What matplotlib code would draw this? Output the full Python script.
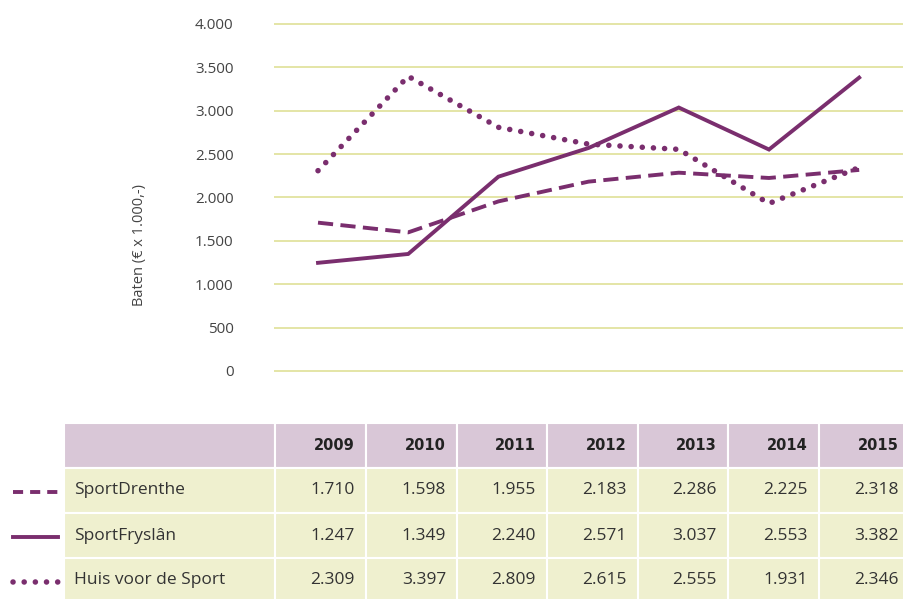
import matplotlib
matplotlib.use("Agg")
import matplotlib.pyplot as plt
from matplotlib.patches import Rectangle
from matplotlib.lines import Line2D

plt.rcParams['font.family'] = ['Open Sans', 'DejaVu Sans']

# data
years = [2009, 2010, 2011, 2012, 2013, 2014, 2015]
sport_drenthe = [1710, 1598, 1955, 2183, 2286, 2225, 2318]
sport_fryslan = [1247, 1349, 2240, 2571, 3037, 2553, 3382]
huis_voor_de_sport = [2309, 3397, 2809, 2615, 2555, 1931, 2346]
series_names = ["SportDrenthe", "SportFryslân", "Huis voor de Sport"]
yticks = [0, 500, 1000, 1500, 2000, 2500, 3000, 3500, 4000]

PURPLE = "#7a2e6e"
GRID = "#e4e5a6"
HEAD = "#d9c7d7"
BODY = "#eff0cf"
TXT = "#333333"

W, H = 904, 599
fig = plt.figure(figsize=(W / 100, H / 100), dpi=100)


def nl(v):
    return f"{v:,}".replace(",", ".")


# chart axes, pixel placement
x0, x1 = 274, 904
y_top, y_zero = 24, 371
pad = 100
ppu = (y_zero - y_top) / 4000
ax = fig.add_axes([x0 / W, 1 - (y_zero + pad * ppu) / H,
                   (x1 - x0) / W, (y_zero - y_top + 2 * pad * ppu) / H])
xs = list(range(len(years)))
ax.set_xlim(-0.488, 6.497)
ax.set_ylim(-pad, 4000 + pad)

styles = [
    dict(lw=2.8, ls=(0, (3.9, 1.9)), dash_capstyle="butt"),
    dict(lw=2.8, ls="-"),
    dict(lw=4.0, ls=(0, (0.01, 2.0)), dash_capstyle="round"),
]
legend_styles = [
    dict(lw=2.8, ls=(0, (2.6, 1.8)), dash_capstyle="butt"),
    styles[1],
    styles[2],
]
for vals, st in zip([sport_drenthe, sport_fryslan, huis_voor_de_sport], styles):
    ax.plot(xs, vals, color=PURPLE, solid_joinstyle="miter", zorder=3, **st)

ax.set_yticks(yticks)
ax.set_yticklabels([nl(v) for v in yticks], fontsize=11, color="#444444")
ax.tick_params(axis="y", length=0, pad=29)
ax.set_xticks([])
ax.grid(axis="y", color=GRID, lw=1.4)
ax.set_axisbelow(True)
for s in ax.spines.values():
    s.set_visible(False)
ax.set_ylabel("Baten (€ x 1.000,-)", fontsize=10.5, color="#444444", labelpad=0)
ax.yaxis.set_label_coords((147 - x0) / (x1 - x0), 0.5 + (0.5 * (y_top + y_zero) - 245) / (y_zero - y_top + 2 * pad * ppu))

# table overlay in pixel coords
tb = fig.add_axes([0, 0, 1, 1], zorder=-1)
tb.set_xlim(0, W)
tb.set_ylim(H, 0)
tb.axis("off")

col_edges = [64, 275, 366, 457, 547, 638, 728, 819, 910]
row_edges = [423, 468, 513, 558, 603]
for r in range(4):
    for c in range(len(col_edges) - 1):
        tb.add_patch(Rectangle((col_edges[c], row_edges[r]),
                               col_edges[c + 1] - col_edges[c], row_edges[r + 1] - row_edges[r],
                               facecolor=HEAD if r == 0 else BODY, edgecolor="white", lw=1.5))

hy = 0.5 * (row_edges[0] + row_edges[1])
for c, yr in enumerate(years):
    tb.text(col_edges[c + 2] - 11, hy, str(yr), ha="right", va="center",
            fontsize=10.5, fontweight="bold", family="DejaVu Sans", color="#222222")

for r, (name, vals, st) in enumerate(zip(series_names,
                                         [sport_drenthe, sport_fryslan, huis_voor_de_sport], legend_styles)):
    cy = 0.5 * (row_edges[r + 1] + row_edges[r + 2])
    tb.text(74, cy, name, ha="left", va="center", fontsize=12.5, color=TXT)
    for c, v in enumerate(vals):
        tb.text(col_edges[c + 2] - 11, cy, nl(v), ha="right", va="center",
                fontsize=12.5, color=TXT)
    tb.add_line(Line2D([13, 58], [cy + 1, cy + 1], color=PURPLE, **st))

fig.savefig("out.png", dpi=100)
